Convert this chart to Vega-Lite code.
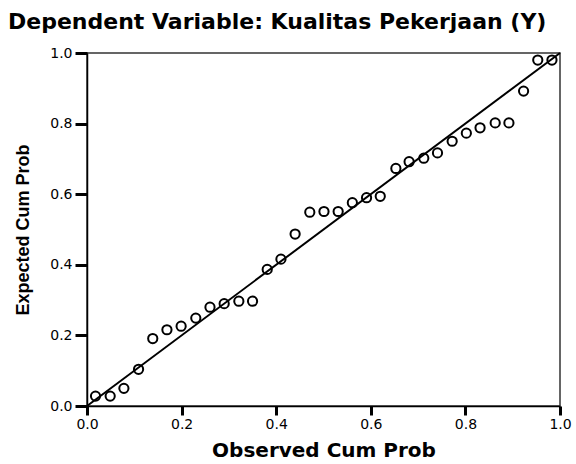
{
  "$schema": "https://vega.github.io/schema/vega-lite/v6.json",
  "width": 473,
  "height": 353,
  "autosize": {"type": "none"},
  "padding": {"left": 87, "top": 53, "right": 16, "bottom": 58},
  "background": "white",
  "title": {
    "text": "Dependent Variable: Kualitas Pekerjaan (Y)",
    "anchor": "start",
    "frame": "group",
    "dx": -79,
    "dy": 29,
    "offset": 24,
    "baseline": "alphabetic",
    "font": "DejaVu Sans",
    "fontSize": 22,
    "fontWeight": "bold",
    "color": "black"
  },
  "config": {
    "view": {"stroke": "#333", "strokeWidth": 1.5},
    "axis": {
      "grid": false,
      "domainColor": "black",
      "domainWidth": 1.5,
      "tickColor": "black",
      "tickWidth": 3,
      "labelFont": "DejaVu Sans",
      "labelFontSize": 14,
      "labelColor": "black",
      "titleColor": "black",
      "titleFontWeight": "bold"
    }
  },
  "datasets": {
    "points": [
      {"observed": 0.018, "expected": 0.028},
      {"observed": 0.049, "expected": 0.028},
      {"observed": 0.078, "expected": 0.050},
      {"observed": 0.109, "expected": 0.104},
      {"observed": 0.139, "expected": 0.191},
      {"observed": 0.169, "expected": 0.216},
      {"observed": 0.199, "expected": 0.226},
      {"observed": 0.230, "expected": 0.249},
      {"observed": 0.260, "expected": 0.280},
      {"observed": 0.290, "expected": 0.290},
      {"observed": 0.321, "expected": 0.297},
      {"observed": 0.350, "expected": 0.297},
      {"observed": 0.381, "expected": 0.387},
      {"observed": 0.410, "expected": 0.416},
      {"observed": 0.440, "expected": 0.487},
      {"observed": 0.471, "expected": 0.549},
      {"observed": 0.501, "expected": 0.551},
      {"observed": 0.531, "expected": 0.551},
      {"observed": 0.561, "expected": 0.576},
      {"observed": 0.591, "expected": 0.590},
      {"observed": 0.620, "expected": 0.594},
      {"observed": 0.653, "expected": 0.673},
      {"observed": 0.681, "expected": 0.692},
      {"observed": 0.712, "expected": 0.702},
      {"observed": 0.741, "expected": 0.717},
      {"observed": 0.772, "expected": 0.750},
      {"observed": 0.802, "expected": 0.773},
      {"observed": 0.831, "expected": 0.788},
      {"observed": 0.863, "expected": 0.802},
      {"observed": 0.892, "expected": 0.802},
      {"observed": 0.923, "expected": 0.892},
      {"observed": 0.953, "expected": 0.980},
      {"observed": 0.983, "expected": 0.980}
    ],
    "ref": [
      {"observed": 0, "expected": 0},
      {"observed": 1, "expected": 1}
    ]
  },
  "layer": [
    {
      "data": {"name": "ref"},
      "mark": {"type": "line", "color": "black", "strokeWidth": 2},
      "encoding": {
        "x": {"field": "observed", "type": "quantitative"},
        "y": {"field": "expected", "type": "quantitative"}
      }
    },
    {
      "data": {"name": "points"},
      "mark": {"type": "point", "shape": "circle", "filled": false, "color": "black", "strokeWidth": 2, "size": 85, "opacity": 1},
      "encoding": {
        "x": {
          "field": "observed",
          "type": "quantitative",
          "scale": {"domain": [0, 1], "nice": false, "zero": true},
          "axis": {
            "title": "Observed Cum Prob",
            "titleFont": "DejaVu Sans",
            "titleFontSize": 20,
            "titlePadding": 9,
            "values": [0, 0.2, 0.4, 0.6, 0.8, 1.0],
            "format": ".1f",
            "tickSize": 9,
            "labelPadding": 2,
            "labelFlush": false
          }
        },
        "y": {
          "field": "expected",
          "type": "quantitative",
          "scale": {"domain": [0, 1], "nice": false, "zero": true},
          "axis": {
            "title": "Expected Cum Prob",
            "titleFont": "Liberation Sans",
            "titleFontSize": 18,
            "titlePadding": 17,
            "values": [0, 0.2, 0.4, 0.6, 0.8, 1.0],
            "format": ".1f",
            "tickSize": 12,
            "labelPadding": 3,
            "labelFlush": false
          }
        }
      }
    }
  ]
}
